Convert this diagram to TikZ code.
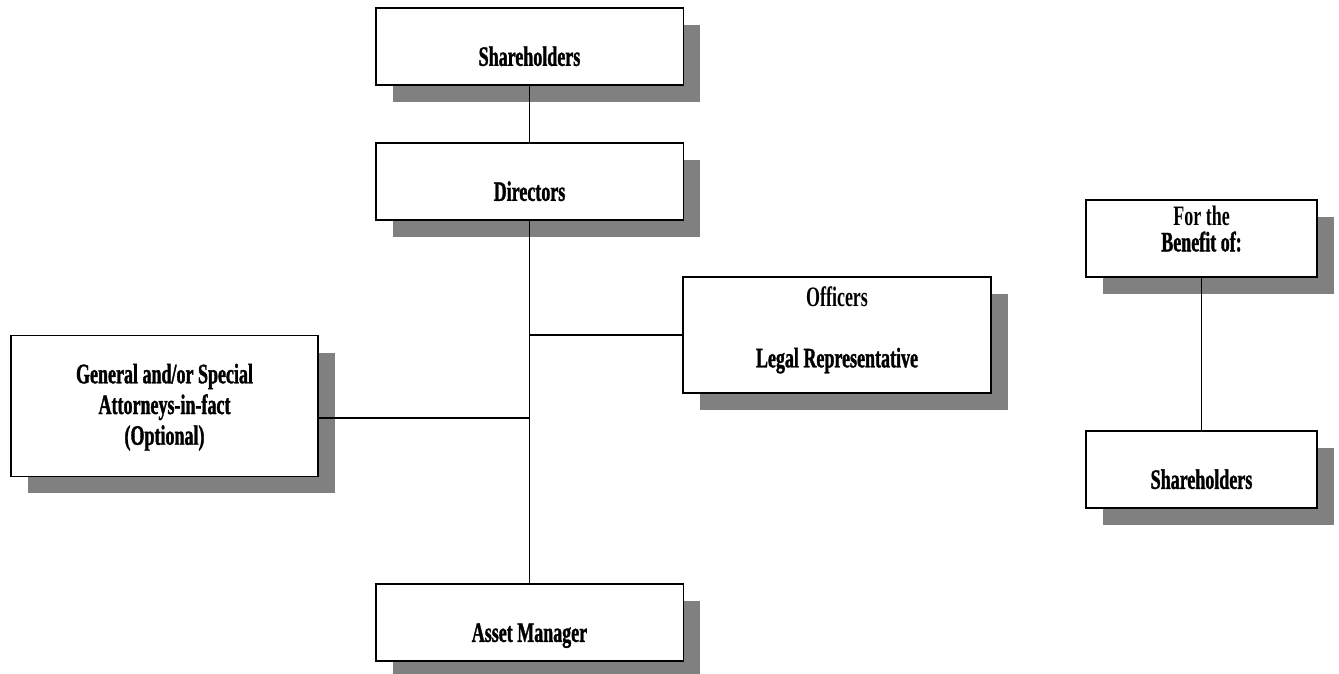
\documentclass[tikz,border=0pt]{standalone}
\usepackage{fontspec}
\setmainfont{Liberation Serif}[FakeStretch=0.64, FakeBold=1.2]
\newfontfamily\lightface{Liberation Serif}[FakeStretch=0.64]
\usetikzlibrary{shadows}

\tikzset{
  orgbox/.style={draw, line width=1.1pt, fill=white, align=center,
    font=\fontsize{16}{17.5}\selectfont\bfseries, inner sep=2pt,
    drop shadow={shadow xshift=0.34cm, shadow yshift=-0.34cm,
      fill=shadowgray, opacity=1}},
  lowtext/.style={text height=22pt, text depth=0pt},
  link/.style={line width=0.9pt}
}
\definecolor{shadowgray}{RGB}{128,128,128}

\begin{document}
\begin{tikzpicture}[x=0.02cm, y=-0.02cm]
  \useasboundingbox (0,0) rectangle (1339,673);
  % left tree
  \node[orgbox, lowtext, minimum width=6.16cm, minimum height=1.54cm] (top) at (529.5,46.5) {Shareholders};
  \node[orgbox, lowtext, minimum width=6.16cm, minimum height=1.54cm] (dir) at (529.5,181.5) {Directors};
  \node[orgbox, text depth=9pt, minimum width=6.16cm, minimum height=2.32cm] (off) at (837,335)
    {{\lightface\bfseries Officers}\\[17pt]Legal Representative};
  \node[orgbox, text depth=2pt, minimum width=6.14cm, minimum height=2.82cm] (gen) at (164.5,406)
    {General and/or Special\\Attorneys-in-fact\\(Optional)};
  \node[orgbox, lowtext, minimum width=6.16cm, minimum height=1.54cm] (am) at (529.5,622.5) {Asset Manager};
  \coordinate (jo) at (529.5,335);
  \coordinate (jg) at (529.5,418);
  \draw[link] (top) -- (dir);
  \draw[link] (dir) -- (am);
  \draw[link] (jo) -- (off.west |- jo);
  \draw[link] (gen.east |- jg) -- (jg);
  % right pair
  \node[orgbox, text depth=11pt, minimum width=4.62cm, minimum height=1.54cm] (ben) at (1201.5,238.5)
    {{\lightface\bfseries For the}\\[-3pt]Benefit of:};
  \node[orgbox, lowtext, minimum width=4.62cm, minimum height=1.54cm] (own) at (1201.5,469.5) {Shareholders};
  \draw[link] (ben) -- (own);
\end{tikzpicture}
\end{document}
